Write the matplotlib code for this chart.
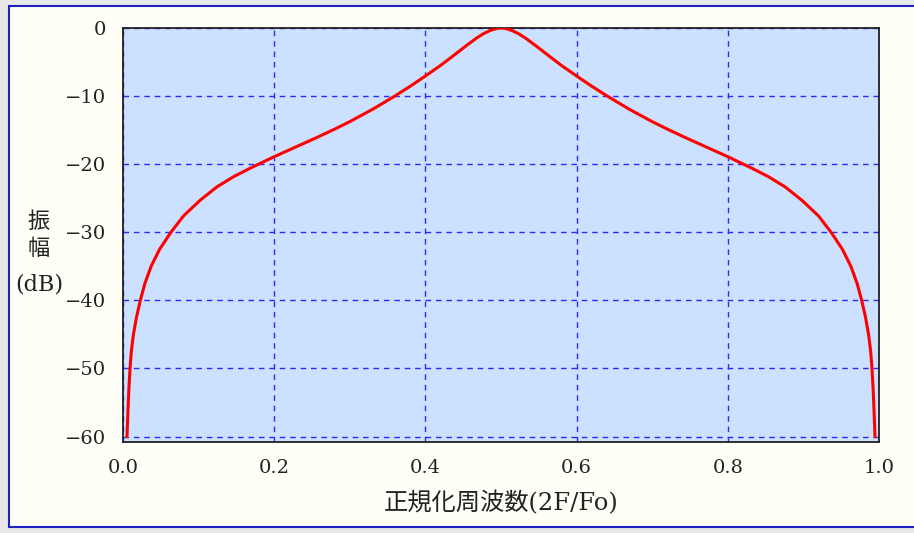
import numpy as np
import matplotlib.pyplot as plt
from matplotlib.patches import Rectangle

# normalized frequency (2F/Fo) and amplitude in dB
freq = [0.0053, 0.0061, 0.0070, 0.0080, 0.0093, 0.0110, 0.0138, 0.0178,
        0.0229, 0.0290, 0.0372, 0.0484, 0.0634, 0.080, 0.102, 0.124, 0.146,
        0.168, 0.184, 0.200, 0.221, 0.240, 0.256, 0.280, 0.300, 0.330,
        0.358, 0.380, 0.400, 0.420, 0.4325, 0.4546, 0.468, 0.4766, 0.485,
        0.492, 0.496, 0.500,
        0.504, 0.508, 0.515, 0.5234, 0.532, 0.5454, 0.5675, 0.580, 0.600,
        0.620, 0.642, 0.670, 0.700, 0.720, 0.744, 0.760, 0.779, 0.800,
        0.816, 0.832, 0.854, 0.876, 0.898, 0.920, 0.9366, 0.9516, 0.9628,
        0.9710, 0.9771, 0.9822, 0.9862, 0.9890, 0.9907, 0.9920, 0.9930,
        0.9939, 0.9947]
amp_db = [-60, -57.5, -55, -52.5, -50, -47.5, -45, -42.5,
          -40, -37.5, -35, -32.5, -30, -27.6, -25.3, -23.35, -21.85,
          -20.6, -19.75, -18.9, -17.85, -16.9, -16.1, -14.85, -13.75, -11.95,
          -10.1, -8.55, -7.05, -5.5, -4.45, -2.55, -1.45, -0.85, -0.4,
          -0.13, -0.04, 0,
          -0.04, -0.13, -0.4, -0.85, -1.45, -2.55, -4.45, -5.5, -7.05,
          -8.55, -10.1, -11.95, -13.75, -14.85, -16.1, -16.9, -17.85, -18.9,
          -19.75, -20.6, -21.85, -23.35, -25.3, -27.6, -30, -32.5, -35,
          -37.5, -40, -42.5, -45, -47.5, -50, -52.5, -55,
          -57.5, -60]

xticks = [0.0, 0.2, 0.4, 0.6, 0.8, 1.0]
yticks = [0, -10, -20, -30, -40, -50, -60]

plt.rcParams['font.family'] = ['DejaVu Serif', 'Noto Sans CJK JP']

fig = plt.figure(figsize=(9.14, 5.33), dpi=100)
fig.patch.set_facecolor('#e8e8e8')
W, H = 914.0, 533.0
fig.patches.append(Rectangle((9 / W, 6 / H), 1.2, (527 - 6) / H,
                             transform=fig.transFigure, facecolor='#fffff8',
                             edgecolor='#2020c0', linewidth=1.5, zorder=-10))

ax = fig.add_axes([123 / W, 91 / H, (879 - 123) / W, (505 - 91) / H])
ax.set_facecolor('#cce0ff')

ax.plot(freq, amp_db, color='red', linewidth=2.2, zorder=3)

ax.set_xlim(0, 1.0)
ax.set_ylim(-60.8, 0)
ax.set_xticks(xticks)
ax.set_xticklabels(['%.1f' % v for v in xticks])
ax.set_yticks(yticks)
ax.tick_params(length=0, labelsize=14, labelcolor='#222222')
ax.tick_params(axis='x', pad=12)
ax.tick_params(axis='y', pad=12)

ax.grid(True, color='#2a2aff', linestyle=(0, (4, 3.5)), linewidth=1.0)
ax.set_axisbelow(True)
for s in ax.spines.values():
    s.set_color('#202020')
    s.set_linewidth(1.3)

ax.set_xlabel('正規化周波数(2F/Fo)', fontsize=17.5, color='#222222',
              labelpad=10)

# vertical label, one line at a time
for txt, ypix in [('振', 222), ('幅', 249), ('(dB)', 285)]:
    fig.text(39 / W, 1 - ypix / H, txt, ha='center', va='center',
             fontsize=16, color='#222222')

fig.savefig('out.png', dpi=100, facecolor=fig.get_facecolor())
